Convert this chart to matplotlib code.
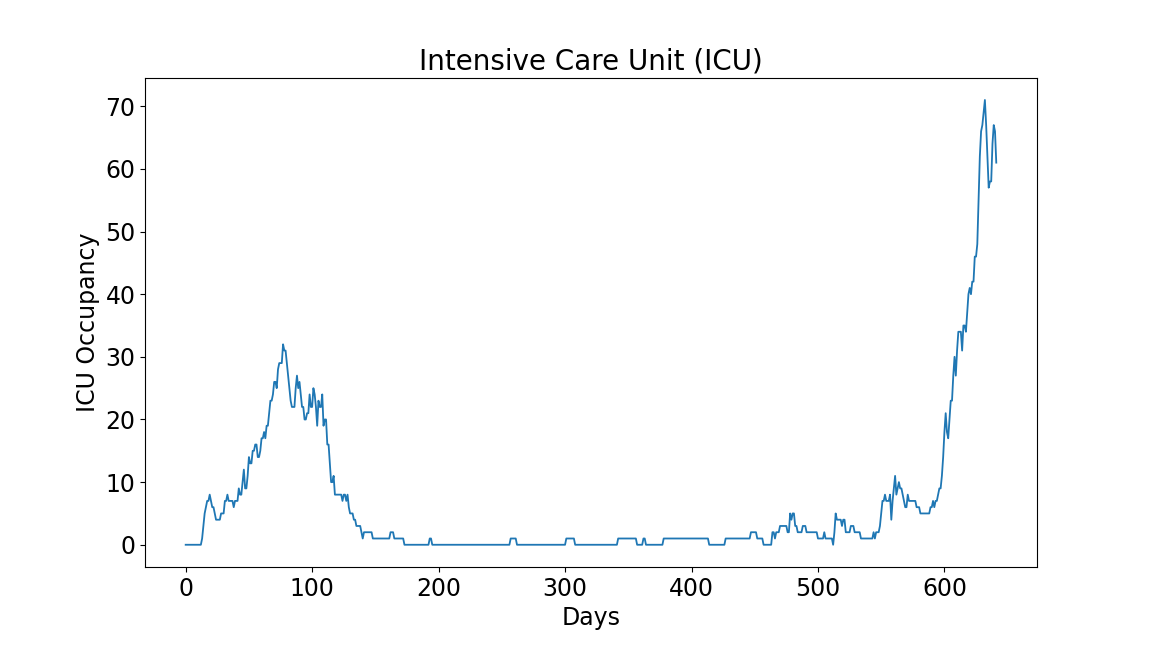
import numpy as np
import matplotlib
matplotlib.use("Agg")
import matplotlib.pyplot as plt

# ICU occupancy, stored as (first day, value) steps
step_days = [0, 13, 14, 15, 16, 17, 19, 20, 21, 23, 24, 28, 31, 33, 34, 38, 39, 42, 43, 45,
             46, 47, 49, 50, 51, 53, 55, 57, 59, 60, 62, 63, 64, 66, 67, 69, 70, 72, 73, 74,
             77, 78, 80, 81, 82, 83, 84, 87, 88, 89, 90, 91, 92, 94, 96, 98, 99, 101, 102, 103,
             104, 105, 106, 108, 109, 110, 112, 114, 115, 117, 118, 124, 125, 127, 128, 129, 130, 133, 135, 139,
             140, 141, 148, 162, 165, 173, 193, 195, 257, 262, 301, 308, 342, 357, 362, 364, 378, 414, 427, 447,
             452, 457, 464, 466, 467, 470, 476, 478, 479, 480, 482, 484, 488, 491, 500, 505, 506, 512, 513, 514,
             515, 519, 520, 522, 526, 529, 534, 544, 545, 546, 549, 550, 551, 553, 554, 557, 558, 559, 560, 561,
             562, 563, 564, 565, 567, 568, 569, 571, 572, 578, 581, 589, 591, 592, 593, 595, 596, 598, 599, 600,
             601, 602, 603, 604, 605, 607, 608, 609, 610, 611, 614, 615, 617, 618, 619, 620, 621, 622, 624, 626,
             627, 628, 629, 630, 631, 632, 633, 634, 635, 636, 638, 639, 640, 641]
step_values = [0, 1, 3, 5, 6, 7, 8, 7, 6, 5, 4, 5, 7, 8, 7, 6, 7, 9, 8, 10,
               12, 9, 11, 14, 13, 15, 16, 14, 15, 17, 18, 17, 19, 21, 23, 24, 26, 25, 28, 29,
               32, 31, 29, 27, 25, 23, 22, 25, 27, 25, 26, 24, 22, 20, 21, 24, 22, 25, 24, 22,
               19, 23, 22, 24, 19, 20, 16, 13, 10, 11, 8, 7, 8, 7, 8, 6, 5, 4, 3, 2,
               1, 2, 1, 2, 1, 0, 1, 0, 1, 0, 1, 0, 1, 0, 1, 0, 1, 0, 1, 2,
               1, 0, 2, 1, 2, 3, 2, 5, 4, 5, 3, 2, 3, 2, 1, 2, 1, 0, 2, 5,
               4, 3, 4, 2, 3, 2, 1, 2, 1, 2, 3, 5, 7, 8, 7, 8, 4, 7, 9, 11,
               8, 9, 10, 9, 8, 7, 6, 8, 7, 6, 5, 6, 7, 6, 7, 8, 9, 11, 14, 18,
               21, 18, 17, 20, 23, 27, 30, 27, 31, 34, 31, 35, 34, 37, 40, 41, 40, 42, 46, 48,
               55, 62, 66, 67, 69, 71, 67, 62, 57, 58, 64, 67, 66, 61]
last_day = 642

lengths = np.diff(step_days + [last_day])
icu = np.repeat(step_values, lengths)
days = np.arange(len(icu))

fig = plt.figure(figsize=(11.52, 6.48), dpi=100)
ax = fig.add_axes([0.126, 0.125, 0.774, 0.755])
ax.plot(days, icu, color='#1f77b4', linewidth=1.3)
ax.set_title('Intensive Care Unit (ICU)', fontsize=20)
ax.set_xlabel('Days', fontsize=17)
ax.set_ylabel('ICU Occupancy', fontsize=17)
ax.tick_params(labelsize=17)
ax.set_xticks([0, 100, 200, 300, 400, 500, 600])

fig.savefig('out.png', dpi=100)
